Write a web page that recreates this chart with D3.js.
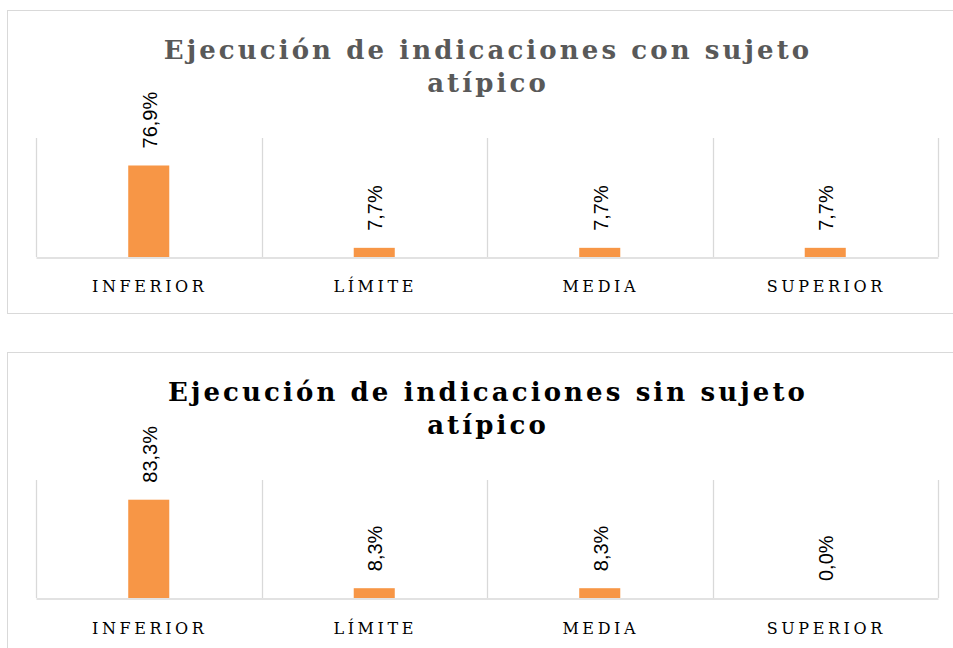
<!DOCTYPE html>
<html>
<head>
<meta charset="utf-8">
<script src="https://cdn.jsdelivr.net/npm/d3@7"></script>
<style>
  html, body { margin: 0; padding: 0; background: #ffffff; }
  svg { display: block; }
</style>
</head>
<body>
<svg id="chart" width="953" height="648"></svg>
<script>
// ---- data ----
const categories = ["INFERIOR", "LÍMITE", "MEDIA", "SUPERIOR"];
const valuesCon = [76.9, 7.7, 7.7, 7.7];
const valuesSin = [83.3, 8.3, 8.3, 0.0];
const titleCon = ["Ejecución de indicaciones con sujeto", "atípico"];
const titleSin = ["Ejecución de indicaciones sin sujeto", "atípico"];

const svg = d3.select("#chart");
const fmt = v => v.toFixed(1).replace(".", ",") + "%";

function drawPanel(cfg) {
  const g = svg.append("g");
  // panel border
  g.append("rect")
    .attr("x", 7.5).attr("y", cfg.boxTop + 0.5)
    .attr("width", 962).attr("height", cfg.boxHeight)
    .attr("fill", "#ffffff").attr("stroke", "#d9d9d9").attr("stroke-width", 1);

  // title
  const t = g.append("text")
    .attr("text-anchor", "middle")
    .attr("font-family", "'DejaVu Serif', serif")
    .attr("font-weight", "bold")
    .attr("font-size", 26)
    .attr("letter-spacing", "3.1px")
    .attr("fill", cfg.titleColor);
  cfg.title.forEach((line, i) => {
    t.append("tspan").attr("x", 488).attr("y", cfg.titleY + i * 33).text(line);
  });

  const x = d3.scaleBand().domain(categories).range([36, 938]).paddingInner(0).paddingOuter(0);
  const y = d3.scaleLinear().domain([0, 100]).range([cfg.base, cfg.top]);

  // vertical gridlines at category boundaries
  const bounds = categories.map(c => x(c)).concat([x(categories[categories.length - 1]) + x.bandwidth()]);
  g.selectAll(".grid").data(bounds).join("line")
    .attr("x1", d => Math.round(d) + 0.5).attr("x2", d => Math.round(d) + 0.5)
    .attr("y1", cfg.top).attr("y2", cfg.base)
    .attr("stroke", "#d9d9d9").attr("stroke-width", 1.3);

  // bars
  const bw = x.bandwidth() * 0.182;
  g.selectAll(".bar").data(cfg.values).join("rect")
    .attr("x", (d, i) => x(categories[i]) + x.bandwidth() / 2 - bw / 2)
    .attr("y", d => y(d))
    .attr("width", bw)
    .attr("height", d => y(0) - y(d))
    .attr("fill", "#f79646");

  // baseline axis
  const axis = d3.axisBottom(x).tickSize(0).tickPadding(0);
  const ax = g.append("g").attr("transform", `translate(0,${cfg.base + 0.5})`).call(axis);
  ax.select(".domain").attr("stroke", "#d9d9d9").attr("stroke-width", 1.3);
  ax.selectAll(".tick text")
    .attr("y", cfg.labelY - cfg.base)
    .attr("dy", 0)
    .attr("dx", "1px")
    .attr("font-family", "'DejaVu Serif', serif")
    .attr("font-size", 16)
    .attr("letter-spacing", "3.6px")
    .attr("fill", "#000000");

  // value labels (rotated)
  g.selectAll(".lbl").data(cfg.values).join("text")
    .attr("transform", (d, i) => `translate(${x(categories[i]) + x.bandwidth() / 2 + 1},${y(d) - 17}) rotate(-90)`)
    .attr("text-anchor", "start")
    .attr("dy", "0.35em")
    .attr("font-family", "'Liberation Sans', sans-serif")
    .attr("font-size", 20)
    .attr("fill", "#000000")
    .text(d => fmt(d));
}

drawPanel({ boxTop: 10, boxHeight: 303, title: titleCon, titleColor: "#595959", titleY: 59,
            top: 138, base: 257, values: valuesCon, labelY: 291 });
drawPanel({ boxTop: 352, boxHeight: 320, title: titleSin, titleColor: "#000000", titleY: 401,
            top: 480, base: 598, values: valuesSin, labelY: 633 });
</script>
</body>
</html>
